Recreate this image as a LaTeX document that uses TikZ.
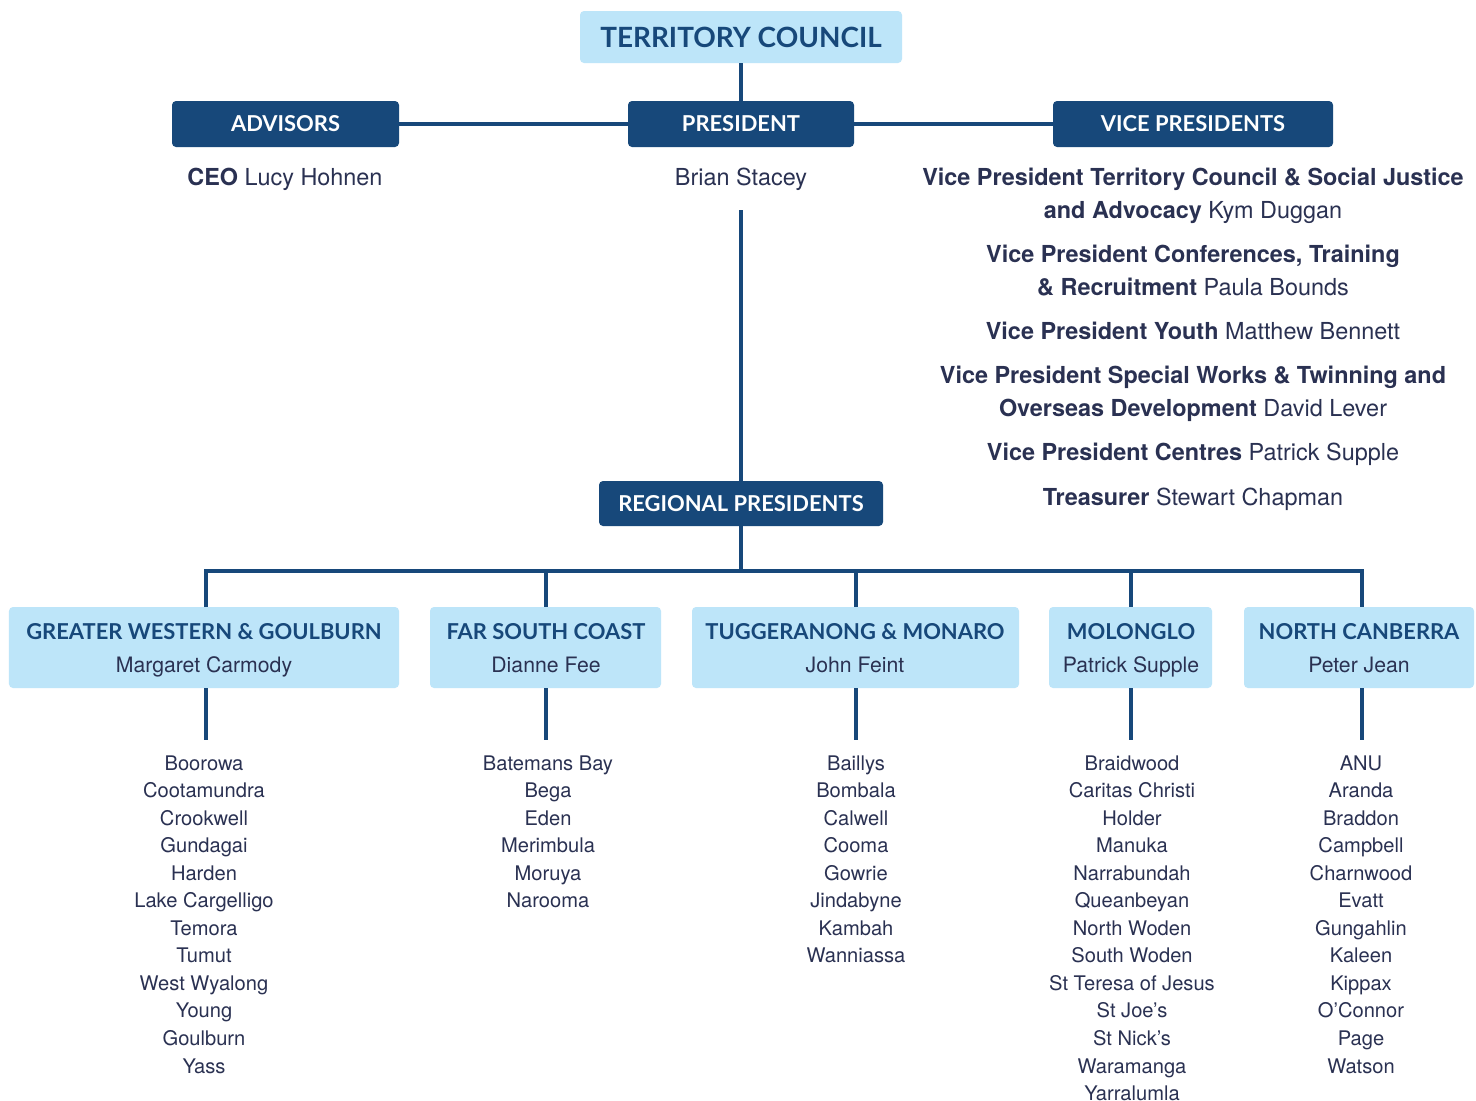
\documentclass[tikz,border=0pt]{standalone}
\usepackage{fontspec}
\setmainfont{TeX Gyre Heros}
\newfontfamily\headfont{Lato}
\definecolor{navy}{HTML}{17487A}
\definecolor{pale}{HTML}{BDE5F9}
\definecolor{ink}{HTML}{2A3152}
\begin{document}
\begin{tikzpicture}[x=1bp,y=-1bp,
  darkbox/.style={fill=navy,rounded corners=4bp,text=white,font=\headfont\bfseries\fontsize{22}{24}\selectfont,inner sep=0pt,minimum height=46bp},
  palebox/.style={fill=pale,rounded corners=4bp,inner sep=0pt},
  phead/.style={text=navy,font=\headfont\bfseries\fontsize{22}{24}\selectfont,anchor=base},
  pname/.style={text=ink,font=\fontsize{21.3}{24}\selectfont,anchor=base},
  body/.style={text=ink,font=\fontsize{23.5}{26}\selectfont,anchor=base},
  item/.style={text=ink,font=\fontsize{20.2}{24}\selectfont,anchor=base},
  conn/.style={draw=navy,line width=4bp}]
\useasboundingbox (0,0) rectangle (1476,1100);
\fill[white] (0,0) rectangle (1476,1100);

% top
\node[palebox,minimum width=322bp,minimum height=52bp] (tc) at (741,37) {};
\node[text=navy,font=\headfont\bfseries\fontsize{28}{30}\selectfont] (tct) at (741,37) {TERRITORY COUNCIL};
\node[darkbox,minimum width=226bp] (pres) at (741,124) {PRESIDENT};
\node[darkbox,minimum width=227bp] (adv) at (285.5,124) {ADVISORS};
\node[darkbox,minimum width=280bp] (vp) at (1193,124) {VICE PRESIDENTS};
\draw[conn] (tc.south) -- (pres.north);
\draw[conn] (adv.east) -- (pres.west);
\draw[conn] (pres.east) -- (vp.west);

\node[body] (ceo) at (285,185) {\textbf{CEO} Lucy Hohnen};
\node[body] (bs) at (741,185) {Brian Stacey};
\coordinate (bsb) at (741,210);

\node[body] (vp1) at (1193,185) {\textbf{Vice President Territory Council \& Social Justice}};
\node[body] (vp1b) at (1193,218) {\textbf{and Advocacy} Kym Duggan};
\node[body] (vp2) at (1193,262) {\textbf{Vice President Conferences, Training}};
\node[body] (vp2b) at (1193,295) {\textbf{\& Recruitment} Paula Bounds};
\node[body] (vp3) at (1193,339) {\textbf{Vice President Youth} Matthew Bennett};
\node[body] (vp4) at (1193,383) {\textbf{Vice President Special Works \& Twinning and}};
\node[body] (vp4b) at (1193,416) {\textbf{Overseas Development} David Lever};
\node[body] (vp5) at (1193,460) {\textbf{Vice President Centres} Patrick Supple};
\node[body] (vp6) at (1193,505) {\textbf{Treasurer} Stewart Chapman};

\node[darkbox,minimum width=284bp,minimum height=45bp] (rp) at (741,503.5) {REGIONAL PRESIDENTS};
\draw[conn] (bsb) -- (rp.north);

% regions
\node[palebox,minimum width=390bp,minimum height=81bp] (r1) at (204,647.5) {};
\node[palebox,minimum width=231bp,minimum height=81bp] (r2) at (545.5,647.5) {};
\node[palebox,minimum width=327bp,minimum height=81bp] (r3) at (855.5,647.5) {};
\node[palebox,minimum width=163bp,minimum height=81bp] (r4) at (1130.5,647.5) {};
\node[palebox,minimum width=230bp,minimum height=81bp] (r5) at (1359,647.5) {};

\node[phead] (h1) at (204,639) {GREATER WESTERN \& GOULBURN};
\node[pname] (n1) at (204,672) {Margaret Carmody};
\node[phead] (h2) at (546,639) {FAR SOUTH COAST};
\node[pname] (n2) at (546,672) {Dianne Fee};
\node[phead] (h3) at (855,639) {TUGGERANONG \& MONARO};
\node[pname] (n3) at (855,672) {John Feint};
\node[phead] (h4) at (1131,639) {MOLONGLO};
\node[pname] (n4) at (1131,672) {Patrick Supple};
\node[phead] (h5) at (1359,639) {NORTH CANBERRA};
\node[pname] (n5) at (1359,672) {Peter Jean};

\coordinate (bus) at (741,571);
\draw[conn] (rp.south) -- (bus);
\draw[conn] (206,607) -- (206,571) -- (1362,571) -- (1362,607);
\draw[conn] (546,571) -- (546,607);
\draw[conn] (856,571) -- (856,607);
\draw[conn] (1131,571) -- (1131,607);

\coordinate (d1) at (206,740);
\coordinate (d2) at (546,740);
\coordinate (d3) at (856,740);
\coordinate (d4) at (1131,740);
\coordinate (d5) at (1362,740);
\draw[conn] (206,688) -- (d1);
\draw[conn] (546,688) -- (d2);
\draw[conn] (856,688) -- (d3);
\draw[conn] (1131,688) -- (d4);
\draw[conn] (1362,688) -- (d5);

\foreach \t [count=\i] in {Boorowa,Cootamundra,Crookwell,Gundagai,Harden,Lake Cargelligo,Temora,Tumut,West Wyalong,Young,Goulburn,Yass}
  \node[item] (la\i) at (204,{770+27.55*(\i-1)}) {\t};
\foreach \t [count=\i] in {Batemans Bay,Bega,Eden,Merimbula,Moruya,Narooma}
  \node[item] (lb\i) at (548,{770+27.55*(\i-1)}) {\t};
\foreach \t [count=\i] in {Baillys,Bombala,Calwell,Cooma,Gowrie,Jindabyne,Kambah,Wanniassa}
  \node[item] (lc\i) at (856,{770+27.55*(\i-1)}) {\t};
\foreach \t [count=\i] in {Braidwood,Caritas Christi,Holder,Manuka,Narrabundah,Queanbeyan,North Woden,South Woden,St Teresa of Jesus,St Joe’s,St Nick’s,Waramanga,Yarralumla}
  \node[item] (ld\i) at (1132,{770+27.55*(\i-1)}) {\t};
\foreach \t [count=\i] in {ANU,Aranda,Braddon,Campbell,Charnwood,Evatt,Gungahlin,Kaleen,Kippax,O’Connor,Page,Watson}
  \node[item] (le\i) at (1361,{770+27.55*(\i-1)}) {\t};
\end{tikzpicture}
\end{document}
